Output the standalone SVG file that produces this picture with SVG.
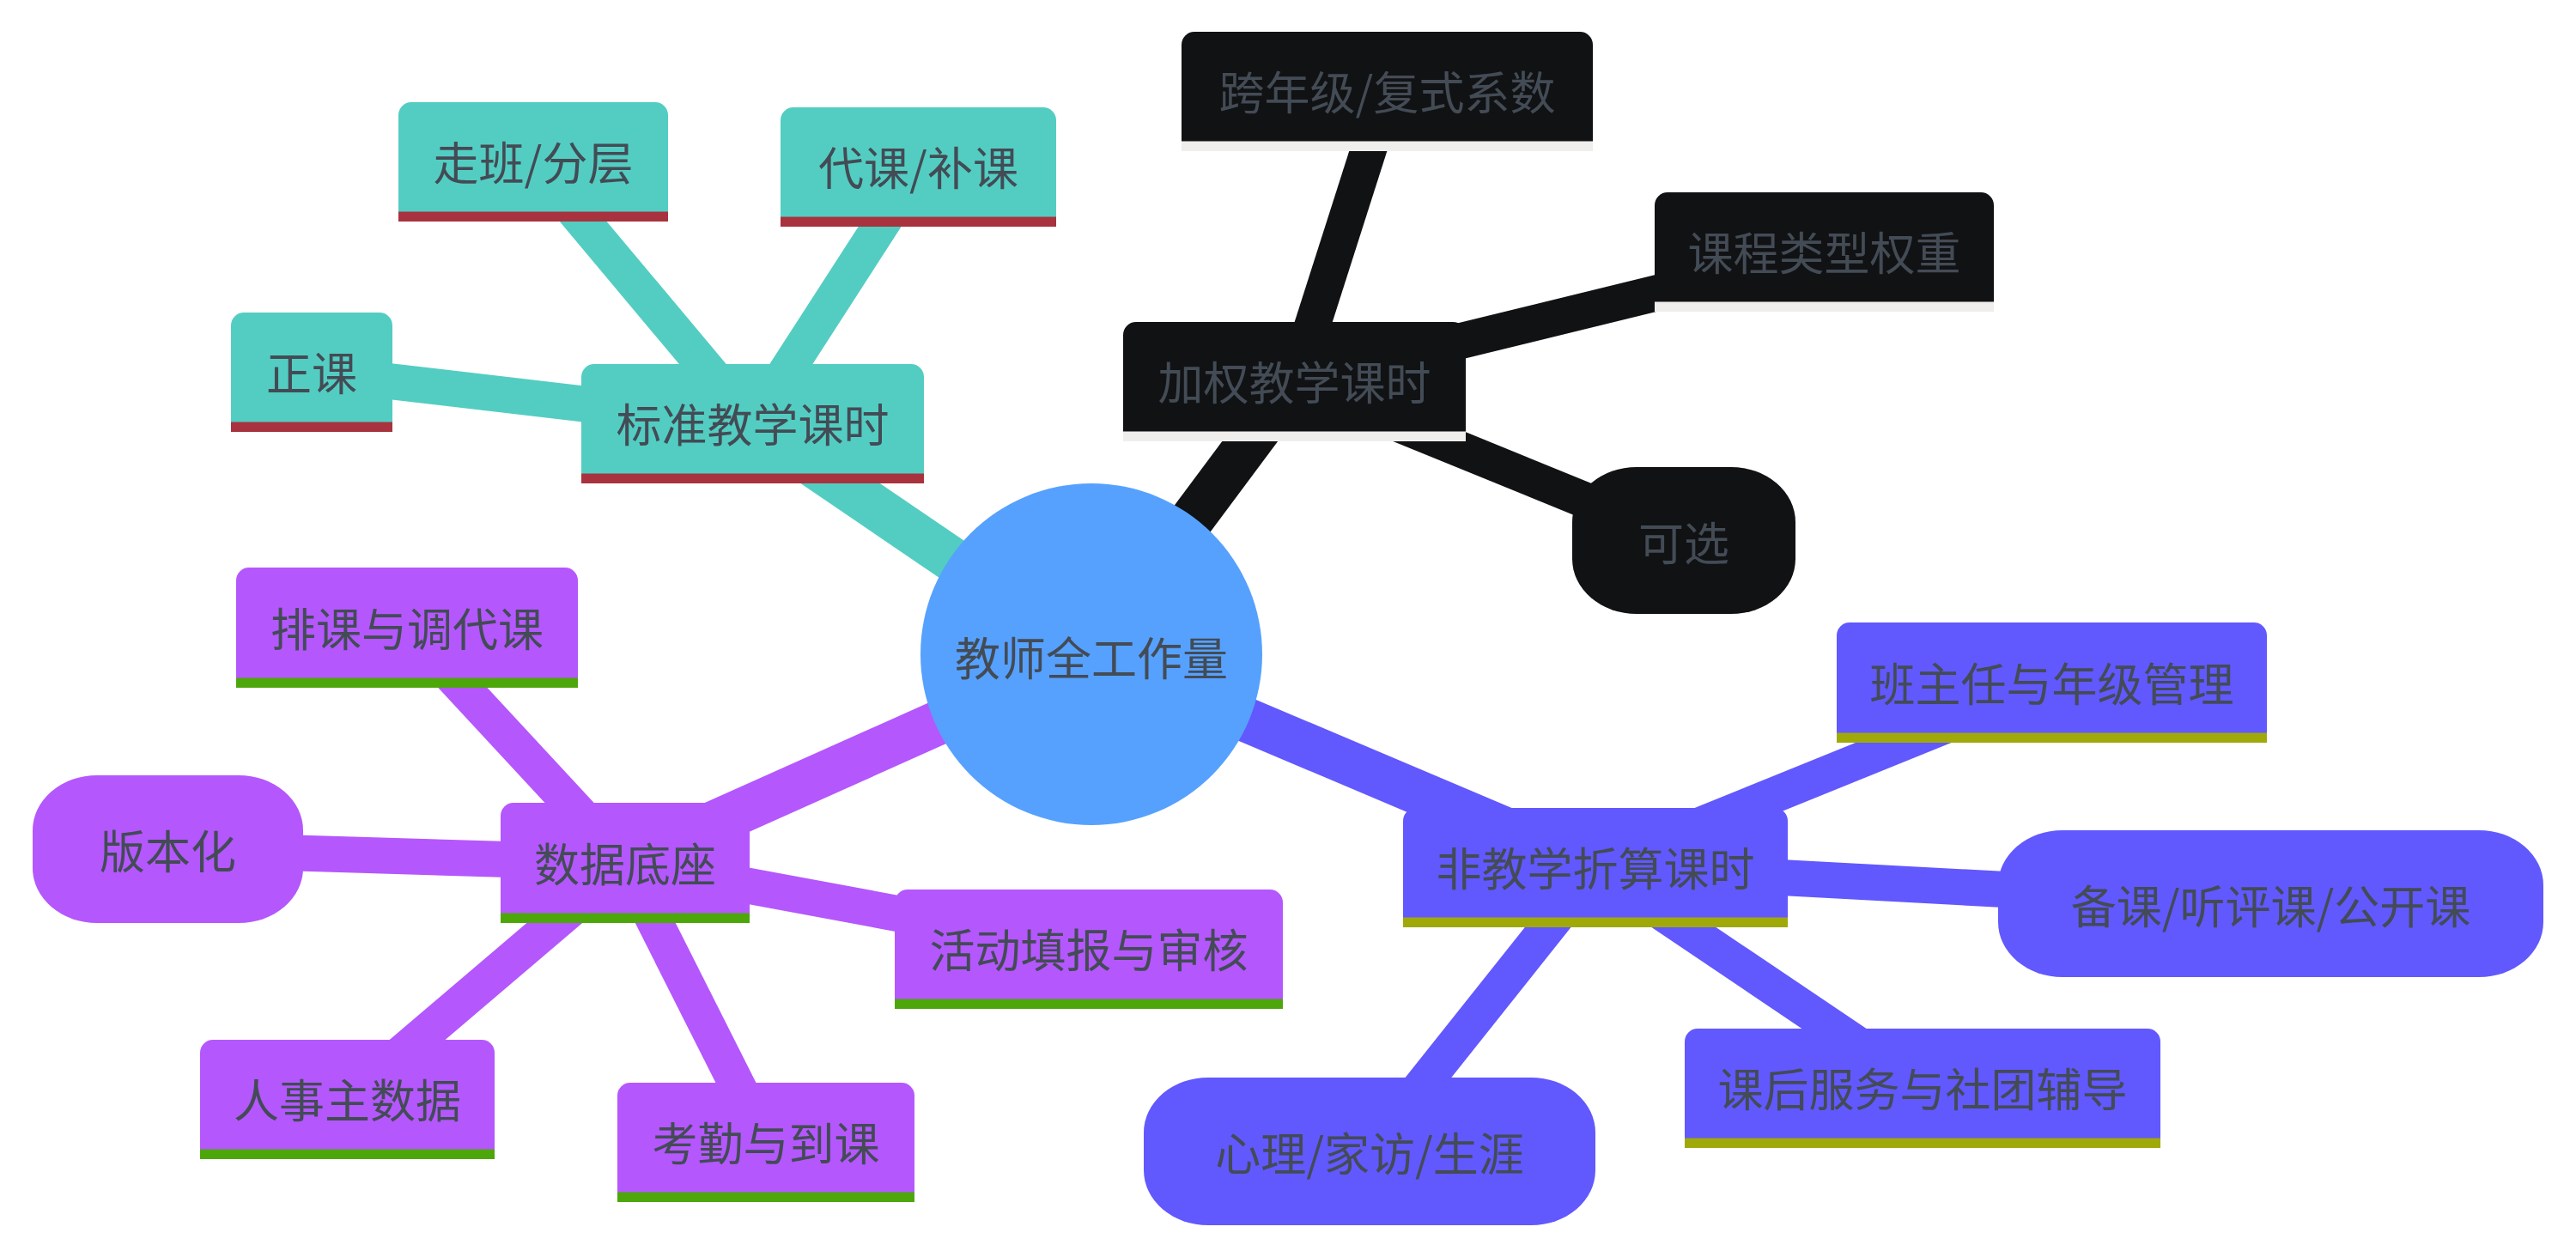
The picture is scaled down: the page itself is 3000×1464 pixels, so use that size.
<svg xmlns="http://www.w3.org/2000/svg" width="3000" height="1464" viewBox="0 0 3000 1464">
<style>
text{font-family:"Noto Sans CJK SC","Noto Sans",sans-serif;font-size:53px;fill:#434b55;text-anchor:middle;dominant-baseline:central}
.e0{stroke-width:52;fill:none}
.e1{stroke-width:42;fill:none}
.tealS{stroke:#53cdc2}.blackS{stroke:#111214}.purpleS{stroke:#b457fd}.violetS{stroke:#6158fe}
.teal{fill:#53cdc2}.black{fill:#111214}.purple{fill:#b457fd}.violet{fill:#6158fe}
.tealL{fill:#a8323e}.blackL{fill:#efeeec}.purpleL{fill:#4da70b}.violetL{fill:#a0a90a}
.root{fill:#56a1fe}
</style>
<rect width="3000" height="1464" fill="#ffffff"/>
<g id="connectors">
<line class="e0 tealS" x1="1271" y1="762" x2="876.5" y2="493.5"/>
<line class="e0 blackS" x1="1271" y1="762" x2="1507.5" y2="444.5"/>
<line class="e0 purpleS" x1="1271" y1="762" x2="728" y2="1005"/>
<line class="e0 violetS" x1="1271" y1="762" x2="1858" y2="1010.5"/>
<line class="e1 tealS" x1="876.5" y1="493.5" x2="363" y2="433.5"/>
<line class="e1 tealS" x1="876.5" y1="493.5" x2="621" y2="188.5"/>
<line class="e1 tealS" x1="876.5" y1="493.5" x2="1069.5" y2="194.5"/>
<line class="e1 blackS" x1="1507.5" y1="444.5" x2="1615.5" y2="106.5"/>
<line class="e1 blackS" x1="1507.5" y1="444.5" x2="2124.5" y2="293.5"/>
<line class="e1 blackS" x1="1507.5" y1="444.5" x2="1961" y2="629.5"/>
<line class="e1 purpleS" x1="728" y1="1005" x2="474" y2="731"/>
<line class="e1 purpleS" x1="728" y1="1005" x2="195.5" y2="989"/>
<line class="e1 purpleS" x1="728" y1="1005" x2="1268" y2="1105.5"/>
<line class="e1 purpleS" x1="728" y1="1005" x2="404.5" y2="1280.5"/>
<line class="e1 purpleS" x1="728" y1="1005" x2="892" y2="1330.5"/>
<line class="e1 violetS" x1="1858" y1="1010.5" x2="2389.5" y2="795"/>
<line class="e1 violetS" x1="1858" y1="1010.5" x2="2644.5" y2="1052.5"/>
<line class="e1 violetS" x1="1858" y1="1010.5" x2="2239" y2="1267.5"/>
<line class="e1 violetS" x1="1858" y1="1010.5" x2="1595" y2="1341"/>
</g>
<g id="root"><circle class="root" cx="1271" cy="762" r="199"/><text x="1271" y="764">教师全工作量</text></g>
<g id="n-standard"><path class="teal" d="M677,563 V439 A15,15 0 0 1 692,424 H1061 A15,15 0 0 1 1076,439 V563 Z"/><rect class="tealL" x="677" y="551.5" width="399" height="11.5"/><text x="876.5" y="492">标准教学课时</text></g>
<g id="n-zhengke"><path class="teal" d="M269,503 V379 A15,15 0 0 1 284,364 H442 A15,15 0 0 1 457,379 V503 Z"/><rect class="tealL" x="269" y="491.5" width="188" height="11.5"/><text x="363" y="432">正课</text></g>
<g id="n-zouban"><path class="teal" d="M464,258 V134 A15,15 0 0 1 479,119 H763 A15,15 0 0 1 778,134 V258 Z"/><rect class="tealL" x="464" y="246.5" width="314" height="11.5"/><text x="621" y="187">走班/分层</text></g>
<g id="n-daike"><path class="teal" d="M909,264 V140 A15,15 0 0 1 924,125 H1215 A15,15 0 0 1 1230,140 V264 Z"/><rect class="tealL" x="909" y="252.5" width="321" height="11.5"/><text x="1069.5" y="193">代课/补课</text></g>
<g id="n-weighted"><path class="black" d="M1308,514 V390 A15,15 0 0 1 1323,375 H1692 A15,15 0 0 1 1707,390 V514 Z"/><rect class="blackL" x="1308" y="502.5" width="399" height="11.5"/><text x="1507.5" y="443">加权教学课时</text></g>
<g id="n-crossgrade"><path class="black" d="M1376,176 V52 A15,15 0 0 1 1391,37 H1840 A15,15 0 0 1 1855,52 V176 Z"/><rect class="blackL" x="1376" y="164.5" width="479" height="11.5"/><text x="1615.5" y="105">跨年级/复式系数</text></g>
<g id="n-coursetype"><path class="black" d="M1927,363 V239 A15,15 0 0 1 1942,224 H2307 A15,15 0 0 1 2322,239 V363 Z"/><rect class="blackL" x="1927" y="351.5" width="395" height="11.5"/><text x="2124.5" y="292">课程类型权重</text></g>
<g id="n-optional"><rect class="black" x="1831" y="544" width="260" height="171" rx="75" ry="64"/><text x="1961" y="629.5">可选</text></g>
<g id="n-data"><path class="purple" d="M583,1075 V950 A15,15 0 0 1 598,935 H858 A15,15 0 0 1 873,950 V1075 Z"/><rect class="purpleL" x="583" y="1063.5" width="290" height="11.5"/><text x="728" y="1004">数据底座</text></g>
<g id="n-schedule"><path class="purple" d="M275,801 V676 A15,15 0 0 1 290,661 H658 A15,15 0 0 1 673,676 V801 Z"/><rect class="purpleL" x="275" y="789.5" width="398" height="11.5"/><text x="474" y="730">排课与调代课</text></g>
<g id="n-version"><rect class="purple" x="38" y="903" width="315" height="172" rx="75" ry="64"/><text x="195.5" y="989">版本化</text></g>
<g id="n-activity"><path class="purple" d="M1042,1175 V1051 A15,15 0 0 1 1057,1036 H1479 A15,15 0 0 1 1494,1051 V1175 Z"/><rect class="purpleL" x="1042" y="1163.5" width="452" height="11.5"/><text x="1268" y="1104">活动填报与审核</text></g>
<g id="n-hr"><path class="purple" d="M233,1350 V1226 A15,15 0 0 1 248,1211 H561 A15,15 0 0 1 576,1226 V1350 Z"/><rect class="purpleL" x="233" y="1338.5" width="343" height="11.5"/><text x="404.5" y="1279">人事主数据</text></g>
<g id="n-attendance"><path class="purple" d="M719,1400 V1276 A15,15 0 0 1 734,1261 H1050 A15,15 0 0 1 1065,1276 V1400 Z"/><rect class="purpleL" x="719" y="1388.5" width="346" height="11.5"/><text x="892" y="1329">考勤与到课</text></g>
<g id="n-nonteaching"><path class="violet" d="M1634,1080 V956 A15,15 0 0 1 1649,941 H2067 A15,15 0 0 1 2082,956 V1080 Z"/><rect class="violetL" x="1634" y="1068.5" width="448" height="11.5"/><text x="1858" y="1009">非教学折算课时</text></g>
<g id="n-headteacher"><path class="violet" d="M2139,865 V740 A15,15 0 0 1 2154,725 H2625 A15,15 0 0 1 2640,740 V865 Z"/><rect class="violetL" x="2139" y="853.5" width="501" height="11.5"/><text x="2389.5" y="794">班主任与年级管理</text></g>
<g id="n-prep"><rect class="violet" x="2327" y="967" width="635" height="171" rx="75" ry="64"/><text x="2644.5" y="1052.5">备课/听评课/公开课</text></g>
<g id="n-afterschool"><path class="violet" d="M1962,1337 V1213 A15,15 0 0 1 1977,1198 H2501 A15,15 0 0 1 2516,1213 V1337 Z"/><rect class="violetL" x="1962" y="1325.5" width="554" height="11.5"/><text x="2239" y="1266">课后服务与社团辅导</text></g>
<g id="n-psych"><rect class="violet" x="1332" y="1255" width="526" height="172" rx="75" ry="64"/><text x="1595" y="1341">心理/家访/生涯</text></g>
</svg>
